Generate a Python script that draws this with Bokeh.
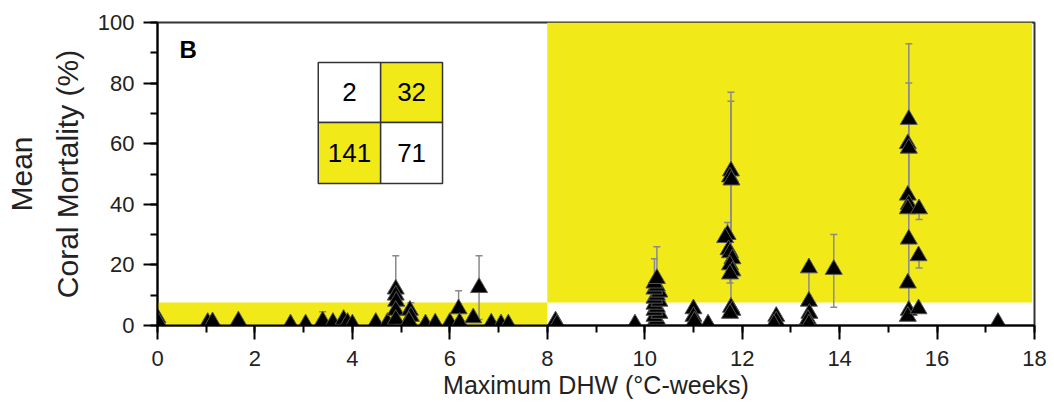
from bokeh.plotting import figure
from bokeh.models import SingleIntervalTicker, Range1d
from bokeh.core.properties import value
from bokeh.embed import file_html
from bokeh.resources import INLINE

# ---- data ----
dhw = [0.0, 0.02, 1.03, 1.13, 1.66, 2.73, 3.04, 3.39, 3.6, 3.82, 3.9, 4.0, 4.48, 4.72,
       4.89, 4.89, 4.9, 4.89, 4.89, 5.18, 5.2, 5.16, 5.5, 5.7, 6.0, 6.18, 6.2, 6.48, 6.6,
       6.85, 7.05, 7.2, 8.17, 8.2,
       9.8, 10.2, 10.25, 10.2, 10.3, 10.2, 10.25, 10.2, 10.3, 10.2, 10.25, 10.3, 10.2, 10.25, 10.2, 10.25,
       11.0, 11.0, 11.02, 11.3,
       11.77, 11.75, 11.78, 11.7, 11.65, 11.72, 11.75, 11.8, 11.75, 11.8, 11.75, 11.77, 11.8, 11.75,
       12.7, 12.7, 12.65,
       13.37, 13.37, 13.38, 13.35, 13.37,
       13.88,
       15.42, 15.4, 15.42, 15.4, 15.42, 15.4, 15.42, 15.4, 15.42, 15.4,
       15.63, 15.62, 15.62,
       17.25]
mortality = [2.5, 1.0, 1.0, 1.2, 1.5, 0.5, 0.5, 1.5, 1.0, 2.0, 1.0, 0.5, 1.0, 1.0,
             12.0, 10.0, 8.0, 5.0, 2.0, 5.0, 3.0, 1.5, 0.5, 0.8, 1.0, 5.5, 1.0, 2.5, 12.5,
             0.8, 0.5, 0.5, 1.5, 0.5,
             0.5, 1, 2, 3, 4, 5, 6, 7, 8, 9, 10, 11, 12, 13, 14, 15.5,
             5.5, 3.0, 1.5, 0.5,
             51, 49, 48, 30, 29, 25, 24, 22, 20, 18, 17, 6, 5, 4,
             3, 1.5, 0.5,
             19, 8, 4, 2, 0.5,
             18.5,
             68, 60, 58.5, 43, 40, 38.5, 28.5, 14, 5, 3,
             38.5, 23, 5.5,
             1]

err_x = [3.39, 4.89, 5.2, 6.18, 6.6, 10.2, 10.25, 11.7, 11.75, 11.77, 11.77, 13.37, 13.88,
         15.42, 15.42, 15.63, 15.63, 17.25]
err_lower = [0, 2, 1, 1, 2, 0, 0, 26, 14, 3, 20, 0, 6, 2, 40, 35, 19, 0]
err_upper = [4.5, 23, 7.5, 11.5, 23, 22, 26, 34, 19, 77, 74, 19, 30, 93, 80, 39, 23, 1]

table_values = ["2", "32", "141", "71"]
table_yellow = [False, True, True, False]

threshold_dhw = 8
threshold_mort = 7.6

YELLOW = "#F1E918"
GREY = "#8a8a8a"
FONT = "Liberation Sans"

p = figure(width=1054, height=415, output_backend="svg", toolbar_location=None,
           x_range=Range1d(0, 18), y_range=Range1d(0, 100),
           min_border_left=157, min_border_right=20, min_border_top=22, min_border_bottom=90)
p.background_fill_color = "white"
p.border_fill_color = "white"
p.grid.visible = False
p.outline_line_color = "#333333"
p.outline_line_width = 2

# shaded quadrants
p.quad(left=[0, threshold_dhw], right=[threshold_dhw, 17.95],
       bottom=[0, threshold_mort], top=[threshold_mort, 100],
       fill_color=YELLOW, line_color=None)

# error bars (vertical lines + caps)
p.segment(x0=err_x, y0=err_lower, x1=err_x, y1=err_upper, line_color=GREY, line_width=1.5)
p.scatter(err_x + err_x, err_lower + err_upper, marker="dash", size=7,
          line_color=GREY, line_width=1.5)

# points
p.scatter(dhw, mortality, marker="triangle", size=17, fill_color="black",
          line_color="#555555", line_width=1)

# inset table
tx0, tx1, tx2 = 3.3, 4.58, 5.85
ty0, ty1, ty2 = 86.8, 67.0, 46.9
lefts = [tx0, tx1, tx0, tx1]
rights = [tx1, tx2, tx1, tx2]
tops = [ty0, ty0, ty1, ty1]
bottoms = [ty1, ty1, ty2, ty2]
colors = [YELLOW if yv else "white" for yv in table_yellow]
p.quad(left=lefts, right=rights, top=tops, bottom=bottoms, fill_color=colors,
       line_color="#333333", line_width=1.5)
p.text(x=[(l + r) / 2 for l, r in zip(lefts, rights)],
       y=[(t + b) / 2 for t, b in zip(tops, bottoms)],
       text=table_values, text_align="center", text_baseline="middle",
       text_font=value(FONT), text_font_size="26px", text_color="black")

p.text(x=[0.45], y=[91], text=["B"], text_align="left", text_baseline="middle",
       text_font=value(FONT), text_font_size="24px", text_font_style="bold", text_color="black")

# axes
p.xaxis.ticker = SingleIntervalTicker(interval=2, num_minor_ticks=2)
p.yaxis.ticker = SingleIntervalTicker(interval=20, num_minor_ticks=2)
for ax in (p.xaxis[0], p.yaxis[0]):
    ax.axis_line_width = 2
    ax.axis_line_color = "black"
    ax.major_tick_line_width = 2
    ax.minor_tick_line_width = 2
    ax.major_tick_in = 0
    ax.minor_tick_in = 0
    ax.major_tick_out = 14
    ax.minor_tick_out = 7
    ax.major_label_text_font = FONT
    ax.major_label_text_font_size = "22px"
    ax.major_label_text_color = "#222222"
    ax.axis_label_text_font = FONT
    ax.axis_label_text_font_style = "normal"
    ax.axis_label_text_color = "#222222"

p.xaxis.axis_label = "Maximum DHW (°C-weeks)"
p.xaxis.axis_label_text_font_size = "25px"
p.xaxis.major_label_standoff = 11
p.xaxis.axis_label_standoff = 2

p.yaxis.axis_label = "Mean\nCoral Mortality (%)"
p.yaxis.axis_label_text_font_size = "30px"
p.yaxis.axis_label_text_line_height = 1.4
p.yaxis.major_label_standoff = 9
p.yaxis.axis_label_standoff = 11

open("out.html", "w").write(file_html(p, INLINE))
